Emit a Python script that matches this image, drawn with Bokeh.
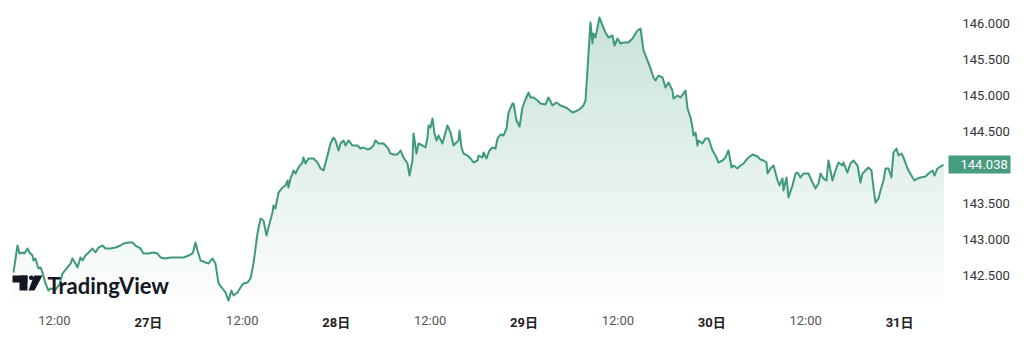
import numpy as np
from bokeh.plotting import figure
from bokeh.models import (Range1d, FixedTicker, PrintfTickFormatter, Label,
                          BoxAnnotation, PolyAnnotation, LinearAxis)
from bokeh.embed import file_html
from bokeh.resources import INLINE

# hours since 26日 00:00
hours = [6.76, 7.27, 7.53, 7.91, 8.17, 8.55, 8.81, 9.19, 9.32, 9.57, 9.83, 9.96, 10.21, 10.47, 10.85,
         11.23, 11.49, 12.13, 12.64, 13.02, 13.66, 14.05, 14.30, 14.68, 14.94, 15.32, 15.58, 15.96,
         16.35, 16.86, 17.24, 17.62, 18.13, 18.52, 19.16, 19.80, 20.43, 20.82, 21.46, 21.97, 22.35,
         22.99, 23.37, 24.01, 24.65, 25.16, 25.55, 26.19, 26.83, 27.72, 28.49, 29.13, 29.64, 29.76,
         30.02, 30.28, 30.66, 31.30, 31.68, 32.19, 32.57, 32.96, 33.47, 33.85, 34.24, 34.62, 34.88,
         35.39, 35.77, 36.15, 36.66, 37.05, 37.43, 37.94, 38.33, 38.71, 39.09, 39.35, 39.86, 39.99,
         40.24, 40.63, 41.14, 41.52, 41.78, 41.90, 42.16, 42.42, 42.54, 42.80, 43.18, 43.69, 43.82,
         44.08, 44.46, 45.10, 45.61, 45.99, 46.38, 46.89, 47.27, 47.66, 47.91, 48.30, 48.55, 48.93,
         49.19, 49.57, 50.08, 50.72, 51.10, 51.49, 52.00, 52.38, 52.77, 53.02, 53.41, 54.05, 54.56,
         54.94, 55.32, 55.83, 56.22, 56.60, 57.11, 57.37, 57.75, 57.88, 58.26, 58.52, 59.03, 59.41,
         59.67, 59.80, 60.05, 60.31, 60.56, 60.82, 61.07, 61.58, 61.97, 62.22, 62.61, 62.99, 63.24,
         63.63, 63.76, 64.01, 64.27, 64.78, 65.16, 65.55, 66.06, 66.19, 66.70, 66.83, 67.21, 67.59,
         67.98, 68.36, 68.62, 68.99, 69.38, 69.77, 70.02, 70.53, 70.66, 71.04, 71.43, 71.81, 72.19,
         72.58, 72.83, 73.21, 73.73, 74.11, 74.75, 75.13, 75.64, 76.15, 76.66, 77.05, 77.56, 78.20,
         78.84, 79.22, 79.60, 79.86, 80.11, 80.24, 80.50, 80.75, 80.88, 81.14, 81.39, 81.65, 82.03,
         82.41, 82.80, 83.31, 83.57, 83.95, 84.33, 84.72, 85.35, 85.87, 86.50, 86.89, 87.27, 87.78,
         88.17, 88.55, 88.80, 89.19, 89.70, 90.08, 90.47, 90.98, 91.10, 91.62, 92.00, 92.38, 92.64,
         92.90, 93.28, 93.53, 93.66, 93.92, 94.17, 94.30, 94.81, 95.19, 95.58, 96.09, 96.47, 96.86,
         97.37, 97.75, 98.13, 98.52, 98.77, 99.28, 99.67, 100.05, 100.56, 101.20, 101.84, 102.22,
         102.61, 102.99, 103.12, 103.50, 103.89, 104.40, 104.65, 105.04, 105.16, 105.55, 105.80,
         106.31, 106.70, 106.95, 107.33, 107.72, 108.36, 108.87, 109.25, 109.63, 109.89, 110.27,
         110.66, 110.91, 111.42, 111.81, 112.19, 112.70, 112.83, 113.34, 113.72, 114.10, 114.62,
         115.00, 115.26, 115.64, 116.02, 116.41, 116.66, 116.92, 117.30, 117.56, 117.94, 118.20,
         118.58, 118.96, 119.22, 119.60, 119.86, 120.24, 120.50, 120.88, 121.14, 121.65, 121.90,
         122.29, 122.67, 123.31, 123.70, 124.21, 124.46, 124.84, 125.23, 125.61]

prices = [142.541, 142.916, 142.805, 142.819, 142.805, 142.875, 142.819, 142.777, 142.708, 142.736,
          142.639, 142.597, 142.611, 142.541, 142.389, 142.291, 142.319, 142.305, 142.375, 142.527,
          142.611, 142.666, 142.736, 142.666, 142.611, 142.750, 142.708, 142.777, 142.819, 142.875,
          142.819, 142.888, 142.916, 142.875, 142.875, 142.888, 142.916, 142.944, 142.958, 142.958,
          142.916, 142.875, 142.805, 142.805, 142.819, 142.805, 142.750, 142.736, 142.750, 142.750,
          142.750, 142.777, 142.805, 142.847, 142.958, 142.847, 142.708, 142.680, 142.666, 142.736,
          142.666, 142.389, 142.319, 142.264, 142.152, 142.291, 142.222, 142.264, 142.333, 142.389,
          142.402, 142.458, 142.666, 143.083, 143.291, 143.263, 143.055, 143.166, 143.375, 143.472,
          143.430, 143.652, 143.722, 143.750, 143.819, 143.722, 143.847, 143.916, 143.958, 143.916,
          144.000, 144.069, 144.138, 144.055, 144.125, 144.125, 144.069, 143.986, 143.958, 144.166,
          144.333, 144.416, 144.375, 144.236, 144.333, 144.375, 144.305, 144.375, 144.305, 144.305,
          144.263, 144.277, 144.250, 144.263, 144.305, 144.375, 144.333, 144.333, 144.277, 144.194,
          144.180, 144.180, 144.236, 144.138, 144.055, 143.888, 144.097, 144.472, 144.194, 144.333,
          144.305, 144.277, 144.416, 144.583, 144.555, 144.680, 144.472, 144.375, 144.444, 144.333,
          144.486, 144.583, 144.486, 144.305, 144.333, 144.375, 144.513, 144.277, 144.194, 144.166,
          144.125, 144.069, 144.097, 144.166, 144.138, 144.208, 144.125, 144.236, 144.277, 144.263,
          144.402, 144.458, 144.444, 144.541, 144.763, 144.888, 144.888, 144.652, 144.569, 144.833,
          144.944, 145.041, 144.972, 144.972, 144.930, 144.888, 144.875, 144.972, 144.861, 144.902,
          144.861, 144.847, 144.819, 144.763, 144.791, 144.819, 144.861, 144.930, 145.347, 145.583,
          146.013, 145.722, 145.861, 145.805, 145.944, 146.083, 145.972, 145.875, 145.805, 145.833,
          145.694, 145.791, 145.722, 145.736, 145.736, 145.791, 145.902, 145.930, 145.625, 145.486,
          145.375, 145.250, 145.208, 145.277, 145.250, 145.111, 145.180, 145.069, 144.958, 145.000,
          144.972, 145.027, 145.069, 144.819, 144.694, 144.555, 144.444, 144.486, 144.305, 144.375,
          144.333, 144.402, 144.402, 144.236, 144.166, 144.069, 144.097, 144.138, 144.236, 144.000,
          144.027, 143.986, 144.027, 144.055, 144.125, 144.180, 144.152, 144.111, 144.097, 144.069,
          143.916, 143.986, 144.027, 143.819, 143.750, 143.847, 143.680, 143.861, 143.583, 143.750,
          143.916, 143.930, 143.861, 143.916, 143.916, 143.791, 143.708, 143.777, 143.916, 143.847,
          143.819, 144.097, 143.819, 143.958, 144.069, 144.027, 144.069, 143.930, 144.055, 144.097,
          144.027, 143.791, 143.916, 143.958, 144.000, 143.958, 143.722, 143.513, 143.569, 143.680,
          143.819, 143.986, 143.986, 143.861, 144.208, 144.263, 144.166, 144.194, 144.138, 144.027,
          143.958, 143.861, 143.819, 143.847, 143.861, 143.875, 143.916, 143.958, 143.888, 143.986,
          144.013, 144.038]

price_ticks = [142.5, 143.0, 143.5, 144.5, 145.0, 145.5, 146.0]
hour_ticks = [12, 36, 60, 84, 108]
hour_labels = ["12:00", "12:00", "12:00", "12:00", "12:00"]
day_ticks = [24, 48, 72, 96, 120]
day_labels = ["27日", "28日", "29日", "30日", "31日"]

LINE = "#3f9a7d"
TAG = "#479b7f"
X0, X1 = 5.10, 126.25
Y0, Y1 = 142.083, 146.319

p = figure(width=1024, height=353, output_backend="svg", toolbar_location=None,
           x_range=Range1d(X0, X1), y_range=Range1d(Y0, Y1),
           x_axis_location=None, y_axis_location=None,
           min_border_left=0, min_border_top=0,
           min_border_right=76, min_border_bottom=48)
p.outline_line_color = None
p.background_fill_color = "white"
p.border_fill_color = "white"
p.xgrid.visible = False
p.ygrid.visible = False


def bare(axis):
    axis.axis_line_color = None
    axis.minor_tick_line_color = None
    axis.major_tick_in = 0
    return axis


# last-price tag axis (tick drawn as a thick green bar)
tag_axis = bare(LinearAxis(ticker=FixedTicker(ticks=[prices[-1]]),
                           formatter=PrintfTickFormatter(format="%.3f")))
tag_axis.major_tick_line_color = TAG
tag_axis.major_tick_line_width = 18
tag_axis.major_tick_out = 62
tag_axis.major_label_standoff = -50
tag_axis.major_label_text_font = "Roboto"
tag_axis.major_label_text_font_size = "13px"
tag_axis.major_label_text_color = "white"
p.add_layout(tag_axis, "right")

# price axis
price_axis = bare(LinearAxis(ticker=FixedTicker(ticks=price_ticks),
                             formatter=PrintfTickFormatter(format="%.3f")))
price_axis.major_tick_line_color = None
price_axis.major_tick_out = 0
price_axis.major_label_standoff = -48
price_axis.major_label_text_font = "Roboto"
price_axis.major_label_text_font_size = "13px"
price_axis.major_label_text_color = "#333333"
p.add_layout(price_axis, "right")

# time axes
hour_axis = bare(LinearAxis(ticker=FixedTicker(ticks=hour_ticks),
                            major_label_overrides=dict(zip(hour_ticks, hour_labels))))
hour_axis.major_tick_line_color = None
hour_axis.major_tick_out = 0
hour_axis.major_label_standoff = 7
hour_axis.major_label_text_font = "Roboto"
hour_axis.major_label_text_font_size = "13px"
hour_axis.major_label_text_color = "#555555"
p.add_layout(hour_axis, "below")

day_axis = bare(LinearAxis(ticker=FixedTicker(ticks=day_ticks),
                           major_label_overrides=dict(zip(day_ticks, day_labels))))
day_axis.major_tick_line_color = None
day_axis.major_tick_out = 0
day_axis.major_label_standoff = -16
day_axis.major_label_text_font = "Roboto, Noto Sans CJK JP"
day_axis.major_label_text_font_style = "bold"
day_axis.major_label_text_font_size = "13px"
day_axis.major_label_text_color = "#222222"
p.add_layout(day_axis, "below")

t = np.array(hours)
y = np.array(prices)

# vertical gradient fill: opaque stacked layers, darker toward the top
line_rgb = np.array([0x3f, 0x9a, 0x7d])
levels = np.linspace(Y0, 146.1, 45)
for lv in levels:
    a = 0.28 * (lv - Y0) / (146.1 - Y0) + 0.01
    rgb = np.round(255 + a * (line_rgb - 255)).astype(int)
    col = "#%02x%02x%02x" % tuple(rgb)
    p.varea(x=t, y1=np.full_like(y, lv), y2=np.maximum(y, lv),
            fill_color=col, fill_alpha=1.0)

p.line(t, y, line_color=LINE, line_width=2, line_join="round")

# watermark logo
def sbox(l, r, tp, b, **kw):
    return BoxAnnotation(left=l, right=r, top=tp, bottom=b,
                         left_units="screen", right_units="screen",
                         top_units="screen", bottom_units="screen",
                         fill_color="#131722", fill_alpha=1, line_color=None, **kw)

p.add_layout(sbox(12, 27, 30, 23))
p.add_layout(sbox(19, 27, 30, 15))
p.add_layout(sbox(28.5, 33, 30, 25.5, border_radius=2))
p.add_layout(PolyAnnotation(xs=[33.5, 42, 34, 28], ys=[30, 30, 15, 15],
                            xs_units="screen", ys_units="screen",
                            fill_color="#131722", fill_alpha=1, line_color=None))
p.add_layout(Label(x=47, y=20, x_units="screen", y_units="screen", text="TradingView",
                   text_align="left", text_baseline="alphabetic",
                   text_font="Lato", text_font_style="bold", text_font_size="22px",
                   text_color="#131722"))

open("out.html", "w").write(file_html(p, INLINE))
